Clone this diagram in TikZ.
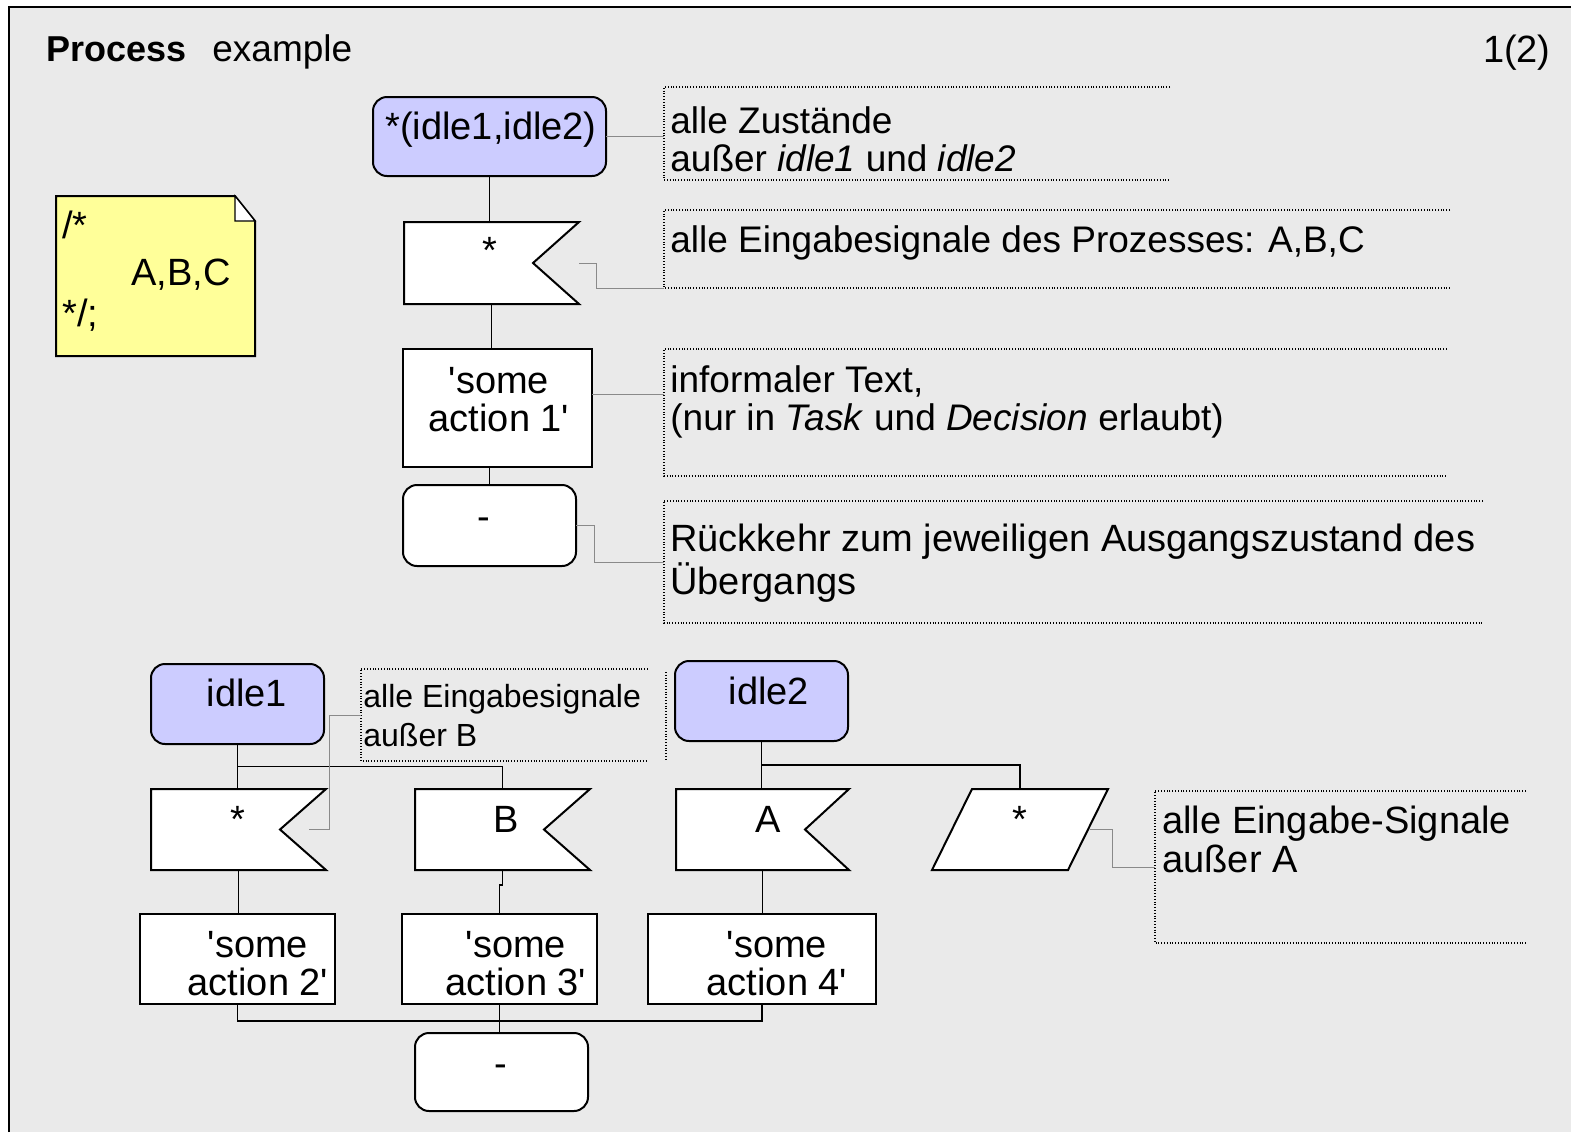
\documentclass[tikz,border=0pt]{standalone}
\usepackage{fontspec}
\setmainfont{Liberation Sans}
\usetikzlibrary{fit,calc}
\definecolor{sheet}{HTML}{EAEAEA}
\definecolor{statefill}{HTML}{CCCCFF}
\definecolor{notefill}{HTML}{FFFF99}
\definecolor{linkgray}{HTML}{8A8A8A}

% SDL input symbol: rectangle with a notch cut into the right side
\newcommand\sdlflag[2]{%
  \draw[sym] (#1.north west) -- (#1.north east) -- ($(#1.east)+(-#2,0)$)
    -- (#1.south east) -- (#1.south west) -- cycle;}
% SDL comment bracket, open to the right
\newcommand\sdlcomment[1]{%
  \draw[annot] (#1.north east) -- (#1.north west) -- (#1.south west) -- (#1.south east);}
% straight apostrophe
\newcommand\q{\textquotesingle}

\begin{document}
\begin{tikzpicture}[x=0.5pt,y=-0.5pt,
  area/.style={inner sep=0pt,outer sep=0pt},
  sym/.style={draw=black,line width=1pt,fill=white},
  statebox/.style={area,sym,fill=statefill,rounded corners=7pt},
  endbox/.style={area,sym,rounded corners=7pt},
  taskbox/.style={area,sym},
  flow/.style={draw=black,line width=0.7pt},
  annot/.style={draw=black,line width=0.6pt,dash pattern=on 0.5pt off 0.9pt},
  link/.style={draw=linkgray,line width=0.5pt},
  txt/.style={inner sep=0pt,font=\fontsize{19}{19}\selectfont},
  ctxt/.style={inner sep=0pt,align=left,font=\fontsize{18.5}{19}\selectfont},
  ttxt/.style={inner sep=0pt,align=center,font=\fontsize{19}{19}\selectfont},
]
\useasboundingbox (0,0) rectangle (1571,1132);
\fill[sheet] (9,7) rectangle (1571,1132);
\draw[line width=1pt] (9,1132) -- (9,7) -- (1571,7);

% heading
\node[txt,anchor=base west,font=\fontsize{18}{18}\selectfont\bfseries] (title) at (46,61) {Process};
\node[txt,anchor=base west,font=\fontsize{18.5}{18}\selectfont] (kind) at (212,61) {example};
\node[txt,anchor=base east] (page) at (1551,62) {1(2)};

% text symbol with folded corner
\node[fit={(56,196) (255,356)},area] (note) {};
\draw[sym,fill=notefill] (note.south west) -- (note.north west) -- ($(note.north east)+(-20,0)$)
  -- ($(note.north east)+(0,25)$) -- (note.south east) -- cycle;
\draw[sym,line width=0.6pt] ($(note.north east)+(-20,0)$) -- ($(note.north east)+(-20,25)$) -- ($(note.north east)+(0,25)$) -- cycle;
\node[txt,anchor=base west] (n1) at (62,238) {/*};
\node[txt,anchor=base west] (n2) at (131,285) {A,B,C};
\node[txt,anchor=base west] (n3) at (62,326) {*/;};

% ---- upper transition: any state, any input
\node[fit={(373,97) (606,176)},statebox] (st) {};
\node[txt,anchor=base] (stt) at (491,139) {*(idle1,idle2)};

\node[fit={(404,222) (579,304)},area] (in0) {};
\sdlflag{in0}{46}
\node[txt,anchor=base] (in0t) at (490,263) {*};

\node[fit={(403,349) (592,467)},taskbox] (t1) {};
\node[ttxt,anchor=base] (t1t) at (499,431) {\q some\\action 1\q};

\node[fit={(403,485) (576,566)},endbox] (e1) {};
\node[txt,anchor=base] (e1t) at (484,529) {-};

\draw[flow] (st.south) -- (st.south |- in0.north);
\draw[flow] (in0.south) -- (in0.south |- t1.north);
\draw[flow] (e1.north) -- (e1.north |- t1.south);

% comments of the upper transition
\node[fit={(664,87) (1170,180)},area] (c1) {};
\sdlcomment{c1}
\node[ctxt,anchor=base west] (c1t) at (670,171) {alle Zustände\\au\ss er \textit{idle1} und \textit{idle2}};
\draw[link] (st.east) -- (st.east -| c1.west);

\node[fit={(664,210) (1450,288)},area] (c2) {};
\sdlcomment{c2}
\node[ctxt,anchor=base west] (c2t) at (670,252) {alle Eingabesignale des Prozesses: A,B,C};
\draw[link] (in0.east) -- ++(17,0) |- (c2.south west);

\node[fit={(664,349) (1447,476)},area] (c3) {};
\sdlcomment{c3}
\node[ctxt,anchor=base west] (c3t) at (670,430) {informaler Text,\\(nur in \textit{Task} und \textit{Decision} erlaubt)};
\draw[link] ([yshift=7pt]t1.east) -- ([yshift=7pt]t1.east -| c3.west);

\node[fit={(664,501) (1483,623)},area] (c4) {};
\sdlcomment{c4}
\node[ctxt,anchor=base west,font=\fontsize{19}{21.5}\selectfont] (c4t) at (670,594) {Rückkehr zum jeweiligen Ausgangszustand des\\Übergangs};
\draw[link] (e1.east) -- ++(18,0) |- (c4.west);

% ---- state idle1
\node[fit={(151,664) (324,744)},statebox] (s1) {};
\node[txt,anchor=base] (s1t) at (247,706) {idle1};

\node[fit={(151,789) (326,870)},area] (in1) {};
\sdlflag{in1}{46}
\node[txt,anchor=base] (in1t) at (238,832) {*};

\node[fit={(415,789) (590,870)},area] (in2) {};
\sdlflag{in2}{46}
\node[txt,anchor=base] (in2t) at (506,832) {B};

\node[fit={(140,914) (335,1004)},taskbox] (t2) {};
\node[ttxt,anchor=base] (t2t) at (258,995) {\q some\\action 2\q};
\node[fit={(402,914) (597,1004)},taskbox] (t3) {};
\node[ttxt,anchor=base] (t3t) at (516,995) {\q some\\action 3\q};

\coordinate (j1) at ($(s1.south)!0.5!(s1.south |- in1.north)$);
\draw[flow] (s1.south) -- (s1.south |- in1.north);
\draw[flow] (j1) -| (in2.north);
\draw[flow] (in1.south) -- (in1.south |- t2.north);
\draw[flow] (in2.south) -- ++(0,15) -| (t3.north);

\node[fit={(361,669) (648,761)},area] (c5) {};
\sdlcomment{c5}
\draw[annot] ($(c5.north east)+(18,3)$) -- ($(c5.south east)+(18,-2)$);
\node[ctxt,anchor=base west,font=\fontsize{16}{19.5}\selectfont] (c5t) at (363,746) {alle Eingabesignale\\au\ss er B};
\draw[link] ([xshift=-8.5pt]in1.east) -- ([xshift=1.5pt]in1.east) |- (c5.west);

% ---- state idle2
\node[fit={(675,661) (848,741)},statebox] (s2) {};
\node[txt,anchor=base] (s2t) at (769,704) {idle2};

\node[fit={(676,789) (849,870)},area] (in3) {};
\sdlflag{in3}{44}
\node[txt,anchor=base] (in3t) at (768,832) {A};

\node[fit={(932,789) (1108,870)},area] (sv) {};
\draw[sym] ($(sv.north west)+(40,0)$) -- (sv.north east) -- ($(sv.south east)+(-40,0)$) -- (sv.south west) -- cycle;
\node[txt,anchor=base] (svt) at (1020,832) {*};

\node[fit={(648,914) (876,1004)},taskbox] (t4) {};
\node[ttxt,anchor=base] (t4t) at (777,995) {\q some\\action 4\q};

\coordinate (j2) at ($(s2.south)!0.5!(s2.south |- in3.north)$);
\draw[flow] (s2.south) -- (s2.south |- in3.north);
\draw[flow] (j2) -| (sv.north);
\draw[flow] (in3.south) -- (in3.south |- t4.north);

\node[fit={(1155,791) (1526,943)},area] (c6) {};
\sdlcomment{c6}
\node[ctxt,anchor=base west,font=\fontsize{19}{19.5}\selectfont] (c6t) at (1162,872) {alle Eingabe-Signale\\au\ss er A};
\draw[link] ([xshift=-9pt]sv.east) -- ([xshift=2pt]sv.east) |- (c6.west);

% ---- common next state
\node[fit={(415,1033) (588,1111)},endbox] (e2) {};
\node[txt,anchor=base] (e2t) at (501,1076) {-};

\coordinate (m) at ($(t3.south)+(0,17)$);
\draw[flow] (t2.south) |- (m);
\draw[flow] (t4.south) |- (m);
\draw[flow] (t3.south) -- (t3.south |- e2.north);
\end{tikzpicture}
\end{document}
